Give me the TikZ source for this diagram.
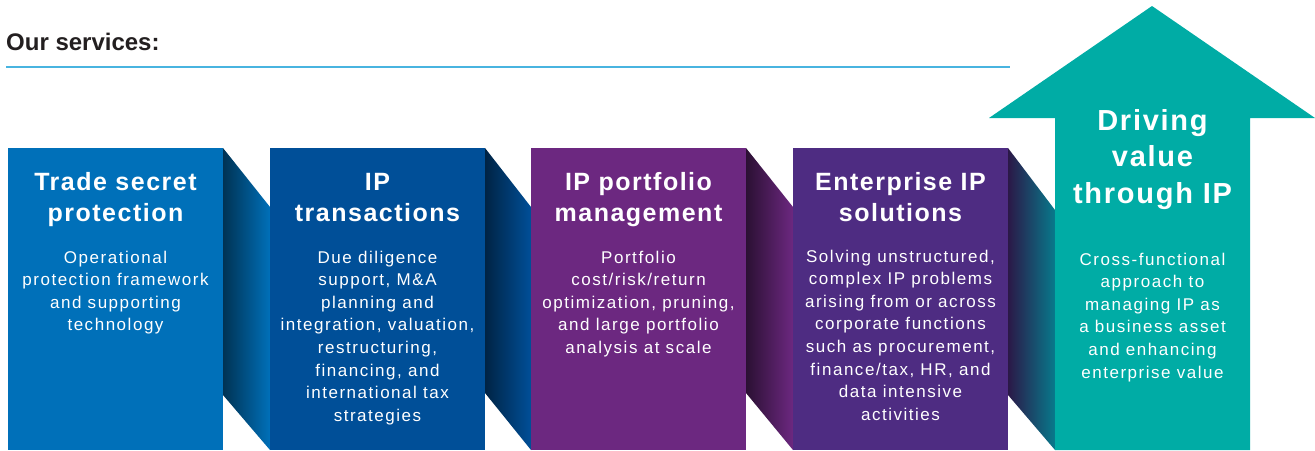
\documentclass[tikz,border=0pt]{standalone}
\usepackage{fontspec}
\setmainfont{Liberation Sans}
\newfontfamily\bodyfont[LetterSpace=9]{Liberation Sans}
\newfontfamily\headfont[LetterSpace=6]{Liberation Sans}
\definecolor{cA}{RGB}{0,112,185}
\definecolor{cB}{RGB}{0,79,152}
\definecolor{cC}{RGB}{108,40,128}
\definecolor{cD}{RGB}{78,44,130}
\definecolor{cE}{RGB}{0,172,165}
\definecolor{rulec}{RGB}{72,180,224}
\definecolor{ink}{RGB}{35,31,32}
\tikzset{
  boxfill/.style={fill=#1, draw=none},
  headtxt/.style={anchor=base, inner sep=0pt, text=white},
  bodytxt/.style={anchor=base, inner sep=0pt, text=white},
}
\newcommand{\headblock}[1]{\parbox[t]{240pt}{\centering\headfont\bfseries\fontsize{25}{31.5}\selectfont #1}}
\newcommand{\bodyblock}[1]{\parbox[t]{240pt}{\centering\bodyfont\fontsize{17}{22.6}\selectfont #1}}
\begin{document}
\begin{tikzpicture}[x=1pt,y=-1pt]
\useasboundingbox (0,0) rectangle (1315,450);
% heading
\node[anchor=base west, inner sep=0pt, text=ink, font=\bfseries\fontsize{24}{28}\selectfont] (title) at (6,50) {Our services:};
\draw[rulec, line width=1.3pt] (6,67) coordinate (ruleL) -- (1010,67) coordinate (ruleR);
% connectors
\shade[left color=cA!45!black, right color=cA] (223,148) -- (270,207) -- (270,450) -- (223,395) -- cycle;
\shade[left color=cB!45!black, right color=cB] (485,148) -- (531,207) -- (531,450) -- (485,393) -- cycle;
\shade[left color=cC!40!black, right color=cC] (746,148) -- (793,207) -- (793,450) -- (746,393) -- cycle;
\shade[left color=cD!55!black, right color={rgb,255:red,8;green,122;blue,140}] (1008,148) -- (1055,210) -- (1055,450) -- (1008,395) -- cycle;
% boxes
\fill[cA] (8,148) rectangle (223,450);
\fill[cB] (270,148) rectangle (485,450);
\fill[cC] (531,148) rectangle (746,450);
\fill[cD] (793,148) rectangle (1008,450);
\fill[cE] (1055,450) -- (1055,118) -- (989,118) -- (1152,6) -- (1315,118) -- (1250,118) -- (1250,450) -- cycle;
% texts
\node[headtxt] (h1) at (115.5,190) {\headblock{Trade secret\\protection}};
\node[bodytxt] (b1) at (115.5,263) {\bodyblock{Operational\\protection framework\\and supporting\\technology}};
\node[headtxt] (h2) at (377.5,190) {\headblock{IP\\transactions}};
\node[bodytxt] (b2) at (377.5,263) {\bodyblock{Due diligence\\support, M\&A\\planning and\\integration, valuation,\\restructuring,\\financing, and\\international tax\\strategies}};
\node[headtxt] (h3) at (638.5,190) {\headblock{IP portfolio\\management}};
\node[bodytxt] (b3) at (638.5,263) {\bodyblock{Portfolio\\cost/risk/return\\optimization, pruning,\\and large portfolio\\analysis at scale}};
\node[headtxt] (h4) at (900.5,190) {\headblock{Enterprise IP\\solutions}};
\node[bodytxt] (b4) at (900.5,262) {\bodyblock{Solving unstructured,\\complex IP problems\\arising from or across\\corporate functions\\such as procurement,\\finance/tax, HR, and\\data intensive\\activities}};
\node[headtxt] (h5) at (1152.5,130) {\parbox[t]{240pt}{\centering\headfont\bfseries\fontsize{29}{36.5}\selectfont Driving\\value\\through IP}};
\node[bodytxt] (b5) at (1152.5,265) {\bodyblock{Cross-functional\\approach to\\managing IP as\\a business asset\\and enhancing\\enterprise value}};
\end{tikzpicture}
\end{document}
